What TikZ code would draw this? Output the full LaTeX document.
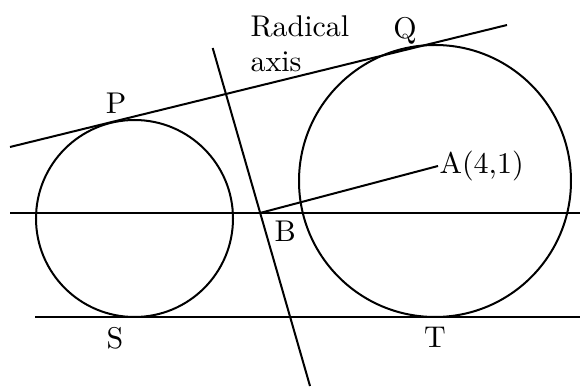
\documentclass[tikz,border=0pt]{standalone}
\usetikzlibrary{positioning,calc}
\begin{document}
\begin{tikzpicture}[x=0.5pt,y=-0.5pt,line width=1pt,
  font=\fontsize{10}{11.67}\selectfont,
  lbl/.style={inner sep=0pt,scale=1.5,transform shape}]
\useasboundingbox (0,0) rectangle (580,389);
% centres and points
\coordinate (o1) at (134.5,218.5);
\coordinate (o2) at (435,181);
\coordinate (A) at (438,166);
\coordinate (B) at (260,213);
% line ends
\coordinate (t1) at (10,147);
\coordinate (t2) at (507,25);
\coordinate (m1) at (10,213);
\coordinate (m2) at (580,213);
\coordinate (b1) at (35,317);
\coordinate (b2) at (580,317);
\coordinate (r1) at (212.7,48);
\coordinate (r2) at (310,386);
% circles
\draw (o1) circle[radius=49.25pt];
\draw (o2) circle[radius=68pt];
% lines
\draw (t1)--(t2);
\draw (m1)--(m2);
\draw (b1)--(b2);
\draw (r1)--(r2);
\draw (B)--(A);
% labels
\node[lbl,anchor=north west,align=left](lR) at (249,14){Radical\\axis};
\node[lbl,anchor=base](lP) at (116,114){P};
\node[lbl,anchor=base](lQ) at (405,39){Q};
\node[lbl,anchor=west](lA) at (A){A(4,1)};
\node[lbl,anchor=base west](lB) at (273,242){B};
\node[lbl,anchor=base](lS) at (115,349){S};
\node[lbl,anchor=base](lT) at (435,348){T};
\end{tikzpicture}
\end{document}
